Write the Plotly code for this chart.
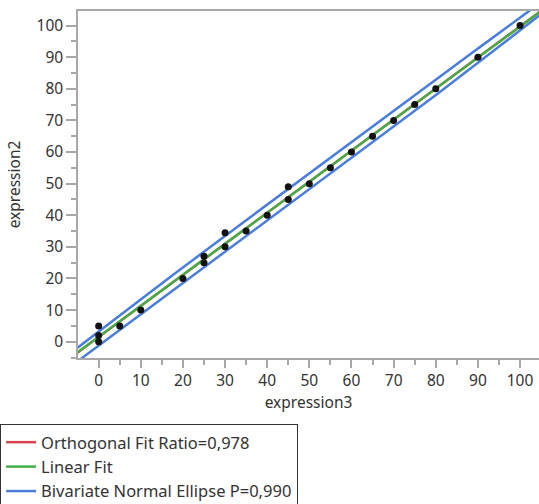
import numpy as np
import plotly.graph_objects as go

# ---- data ----
x_vals = [0, 0, 0, 5, 10, 20, 25, 25, 30, 30, 35, 40, 45, 45, 50, 55, 60, 65, 70, 75, 80, 90, 100]
y_vals = [0, 2, 5, 5, 10, 20, 25, 27, 30, 34.5, 35, 40, 45, 49, 50, 55, 60, 65, 70, 75, 80, 90, 100]
tick_vals = [0, 10, 20, 30, 40, 50, 60, 70, 80, 90, 100]
orth_ratio = 0.978
legend_labels = ["Orthogonal Fit Ratio=0,978", "Linear Fit", "Bivariate Normal Ellipse P=0,990"]
x_title = "expression3"
y_title = "expression2"

# density ellipse (axis angle in degrees, semi-axes in data units)
ellipse_angle_deg = 44.77
ellipse_semi_axes = [160.0, 1.85]

x_range = [-4.9, 104.5]
y_range = [-5.15, 104.6]

x = np.array(x_vals, dtype=float)
y = np.array(y_vals, dtype=float)
mx, my = x.mean(), y.mean()
cov = np.cov(x, y)
sxx, syy, sxy = cov[0, 0], cov[1, 1], cov[0, 1]

# linear fit (OLS)
b_lin = sxy / sxx
a_lin = my - b_lin * mx

# orthogonal (Deming) fit with specified variance ratio
d = orth_ratio
b_orth = (syy - d * sxx + np.sqrt((syy - d * sxx) ** 2 + 4 * d * sxy ** 2)) / (2 * sxy)
a_orth = my - b_orth * mx

xl = np.array([x_range[0] - 10, x_range[1] + 10])

# bivariate normal density ellipse, centred on the data mean
th = np.deg2rad(ellipse_angle_deg)
t = np.linspace(0, 2 * np.pi, 2881)
ua = ellipse_semi_axes[0] * np.cos(t)
vb = ellipse_semi_axes[1] * np.sin(t)
ex = mx + ua * np.cos(th) - vb * np.sin(th)
ey = my + ua * np.sin(th) + vb * np.cos(th)

RED = "#d9434f"
GREEN = "#45ad45"
BLUE = "#4a7ddc"
FONT = "Noto Sans"
TXT = "#333333"
AX = "#a8a8a8"

fig = go.Figure()
fig.add_trace(go.Scatter(x=xl, y=a_orth + b_orth * xl, mode="lines",
                         line=dict(color=RED, width=2.5), name=legend_labels[0]))
fig.add_trace(go.Scatter(x=xl, y=a_lin + b_lin * xl, mode="lines",
                         line=dict(color=GREEN, width=2.5), name=legend_labels[1]))
fig.add_trace(go.Scatter(x=ex, y=ey, mode="lines",
                         line=dict(color=BLUE, width=2.5), name=legend_labels[2]))
fig.add_trace(go.Scatter(x=x_vals, y=y_vals, mode="markers",
                         marker=dict(color="#111111", size=7), showlegend=False))

axis_common = dict(
    showgrid=False, zeroline=False, showline=True, linecolor=AX, linewidth=1.5,
    ticks="outside", tickcolor=AX, tickwidth=1.5,
    tickvals=tick_vals, tickfont=dict(family=FONT, size=15.5, color=TXT),
    minor=dict(dtick=5, ticks="outside", ticklen=5, tickcolor=AX, tickwidth=1.5),
)

fig.update_xaxes(range=x_range, ticklen=8, mirror=True, **axis_common,
                 title=dict(text=x_title, font=dict(family=FONT, size=15.5, color=TXT), standoff=4))
fig.update_yaxes(range=y_range, ticklen=10, **axis_common,
                 title=dict(text=y_title, font=dict(family=FONT, size=15.5, color=TXT), standoff=12))

fig.update_layout(
    width=539, height=504,
    margin=dict(l=78, r=0, t=11, b=146, autoexpand=False),
    plot_bgcolor="white", paper_bgcolor="white",
    font=dict(family=FONT, color=TXT),
    legend=dict(x=-0.169, y=-0.19, xanchor="left", yanchor="top",
                bordercolor="#333333", borderwidth=1, bgcolor="white",
                font=dict(family=FONT, size=16.5, color=TXT),
                tracegroupgap=0, itemwidth=30),
)

fig.write_html("out.html", config={"displayModeBar": False},
               post_script="document.body.style.margin='0';")
